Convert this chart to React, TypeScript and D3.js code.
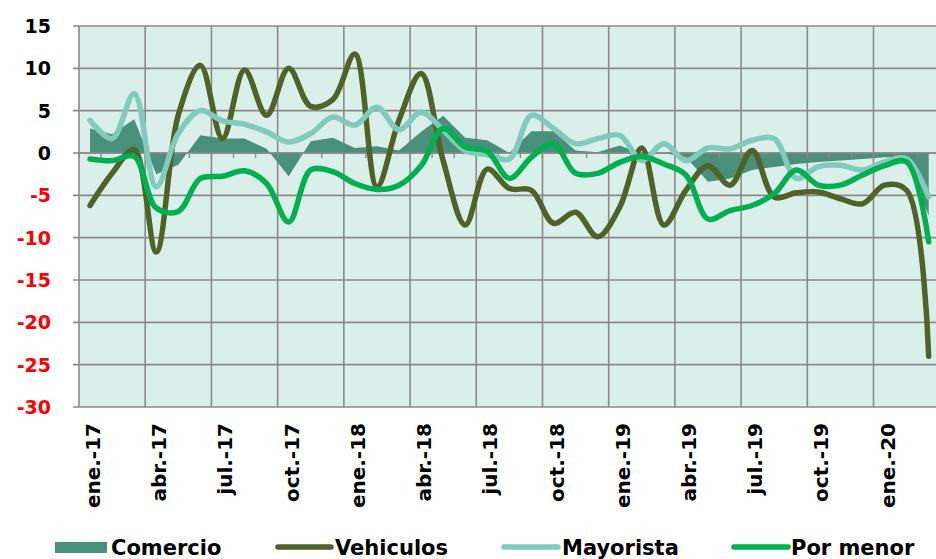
import React, { useEffect, useRef } from 'react'
import * as d3 from 'd3'

const months = [
  'ene.-17', 'feb.-17', 'mar.-17', 'abr.-17', 'may.-17', 'jun.-17', 'jul.-17', 'ago.-17', 'sep.-17', 'oct.-17', 'nov.-17', 'dic.-17',
  'ene.-18', 'feb.-18', 'mar.-18', 'abr.-18', 'may.-18', 'jun.-18', 'jul.-18', 'ago.-18', 'sep.-18', 'oct.-18', 'nov.-18', 'dic.-18',
  'ene.-19', 'feb.-19', 'mar.-19', 'abr.-19', 'may.-19', 'jun.-19', 'jul.-19', 'ago.-19', 'sep.-19', 'oct.-19', 'nov.-19', 'dic.-19',
  'ene.-20', 'feb.-20', 'mar.-20',
]
const tickLabels = ['ene.-17', 'abr.-17', 'jul.-17', 'oct.-17', 'ene.-18', 'abr.-18', 'jul.-18', 'oct.-18', 'ene.-19', 'abr.-19', 'jul.-19', 'oct.-19', 'ene.-20']
const yTicks = [-30, -25, -20, -15, -10, -5, 0, 5, 10, 15]

const comercio = [2.9, 2.2, 4.0, -2.5, -1.4, 2.1, 1.7, 1.7, 0.5, -2.75, 1.4, 1.8, 0.6, 0.8, 0.3, 2.5, 4.4, 1.8, 1.5, 0.0, 2.56, 2.56, 0.3, 0.1, 0.9, -0.1, 0.0, -0.5, -3.4, -3.0, -2.0, -1.65, -1.3, -1.05, -0.9, -0.7, -0.5, -0.55, -7.4]
const vehiculos = [-6.2, -2.4, 0.4, -11.7, 4.5, 10.35, 1.7, 9.8, 4.45, 10.0, 5.5, 6.3, 11.7, -4.0, 3.9, 9.4, -0.9, -8.5, -1.9, -4.2, -4.4, -8.3, -7.0, -9.9, -6.4, 0.6, -8.5, -4.4, -1.5, -3.8, 0.3, -5.2, -4.7, -4.6, -5.4, -6.0, -3.8, -4.4, -24.0]
const mayorista = [3.85, 1.7, 7.0, -4.0, 2.3, 5.0, 3.8, 3.4, 2.5, 1.3, 2.3, 4.25, 3.3, 5.4, 2.75, 4.8, 2.7, 0.3, -0.2, -0.7, 4.45, 2.9, 1.1, 1.7, 2.1, -0.9, 1.1, -0.9, 0.6, 0.5, 1.5, 1.7, -3.0, -1.6, -1.45, -2.0, -1.05, -0.7, -5.2]
const porMenor = [-0.7, -0.9, -0.4, -6.5, -6.9, -3.0, -2.75, -2.1, -3.6, -8.15, -2.0, -2.2, -3.6, -4.3, -3.8, -1.5, 2.9, 0.7, 0.2, -3.0, -0.5, 1.1, -2.4, -2.4, -1.1, -0.4, -1.3, -2.6, -7.8, -6.8, -6.2, -4.8, -2.0, -3.8, -3.8, -2.6, -1.5, -1.05, -10.5]

const lineSeries = [
  { name: 'Vehiculos', values: vehiculos, color: '#4f6228' },
  { name: 'Mayorista', values: mayorista, color: '#80cbbb' },
  { name: 'Por menor', values: porMenor, color: '#00b050' },
]

const App = () => {
  const svgRef = useRef(null)

  useEffect(() => {
    const svg = d3.select(svgRef.current)
    svg.selectAll('*').remove()
    const width = 936
    const height = 559
    const left = 79
    const top = 26
    const bottom = 407
    const right = left + months.length * 22.07
    const font = 'DejaVu Sans, Verdana, sans-serif'
    const gridColor = '#8a8a8a'

    svg.attr('width', width).attr('height', height)

    const x = d3.scaleBand().domain(months).range([left, right]).padding(0)
    const y = d3.scaleLinear().domain([-30, 15]).range([bottom, top])
    const cx = (i) => x(months[i]) + x.bandwidth() / 2

    svg
      .append('rect')
      .attr('x', left)
      .attr('y', top)
      .attr('width', right - left)
      .attr('height', bottom - top)
      .attr('fill', '#daeeea')

    // horizontal grid + y labels
    svg
      .append('g')
      .selectAll('line')
      .data(yTicks)
      .enter()
      .append('line')
      .attr('x1', left - 6)
      .attr('x2', right)
      .attr('y1', (d) => y(d))
      .attr('y2', (d) => y(d))
      .attr('stroke', gridColor)
      .attr('stroke-width', 1.6)

    svg
      .append('g')
      .selectAll('text')
      .data(yTicks)
      .enter()
      .append('text')
      .attr('x', 51)
      .attr('y', (d) => y(d))
      .attr('dy', '0.36em')
      .attr('text-anchor', 'end')
      .attr('font-family', font)
      .attr('font-weight', 'bold')
      .attr('font-size', 19)
      .attr('fill', (d) => (d < 0 ? '#ff0000' : '#000000'))
      .text((d) => d)

    // vertical grid every 3 months
    svg
      .append('g')
      .selectAll('line')
      .data(tickLabels)
      .enter()
      .append('line')
      .attr('x1', (d) => x(d))
      .attr('x2', (d) => x(d))
      .attr('y1', top)
      .attr('y2', bottom)
      .attr('stroke', gridColor)
      .attr('stroke-width', 1.6)

    // comercio area
    const area = d3
      .area()
      .x((d, i) => cx(i))
      .y0(y(0))
      .y1((d) => y(d))
    svg.append('path').datum(comercio).attr('d', area).attr('fill', '#4a8f79')

    // zero axis with monthly ticks
    svg
      .append('line')
      .attr('x1', left)
      .attr('x2', right)
      .attr('y1', y(0))
      .attr('y2', y(0))
      .attr('stroke', gridColor)
      .attr('stroke-width', 1.6)
    svg
      .append('g')
      .selectAll('line')
      .data(months)
      .enter()
      .append('line')
      .attr('x1', (d) => x(d))
      .attr('x2', (d) => x(d))
      .attr('y1', y(0))
      .attr('y2', y(0) + 5)
      .attr('stroke', gridColor)
      .attr('stroke-width', 1.4)

    const line = d3
      .line()
      .x((d, i) => cx(i))
      .y((d) => y(d))
      .curve(d3.curveCatmullRom.alpha(0.5))

    lineSeries.forEach((s) => {
      svg
        .append('path')
        .datum(s.values)
        .attr('d', line)
        .attr('fill', 'none')
        .attr('stroke', s.color)
        .attr('stroke-width', 5.5)
        .attr('stroke-linecap', 'round')
        .attr('stroke-linejoin', 'round')
    })

    // x labels
    svg
      .append('g')
      .selectAll('text')
      .data(tickLabels)
      .enter()
      .append('text')
      .attr('transform', (d) => `translate(${x(d) + x.bandwidth() / 2 + 10},423) rotate(-90)`)
      .attr('text-anchor', 'end')
      .attr('font-family', font)
      .attr('font-weight', 'bold')
      .attr('font-size', 20)
      .attr('fill', '#000000')
      .text((d) => d)

    // legend
    const lg = svg.append('g').attr('font-family', font).attr('font-weight', 'bold').attr('font-size', 21)
    lg.append('rect').attr('x', 55).attr('y', 542).attr('width', 52).attr('height', 11).attr('fill', '#4a8f79')
    lg.append('text').attr('x', 111).attr('y', 555).text('Comercio')
    const legendLines = [
      { x1: 278, x2: 331, tx: 335 },
      { x1: 504, x2: 558, tx: 562 },
      { x1: 734, x2: 788, tx: 791 },
    ]
    lineSeries.forEach((s, i) => {
      const p = legendLines[i]
      lg.append('line')
        .attr('x1', p.x1)
        .attr('x2', p.x2)
        .attr('y1', 547)
        .attr('y2', 547)
        .attr('stroke', s.color)
        .attr('stroke-width', 5.5)
        .attr('stroke-linecap', 'round')
      lg.append('text').attr('x', p.tx).attr('y', 555).text(s.name)
    })
  }, [])

  return <svg ref={svgRef} style={{ position: 'absolute', left: 0, top: 0 }}></svg>
}

export default App
